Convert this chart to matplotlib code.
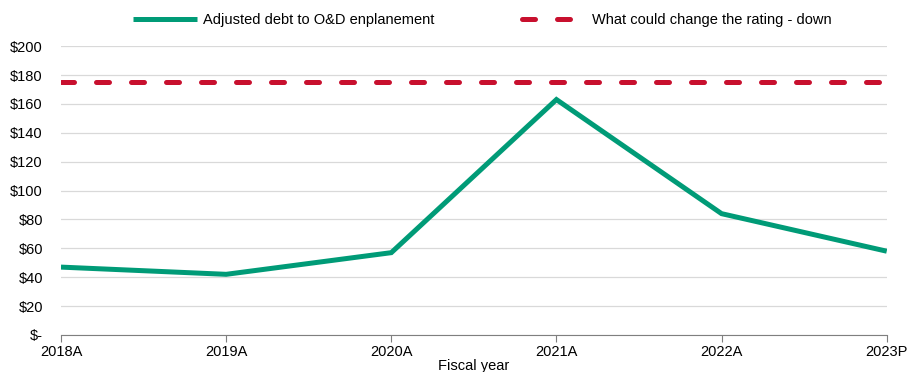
import matplotlib
matplotlib.use("Agg")
import matplotlib.pyplot as plt
from matplotlib.ticker import FuncFormatter

plt.rcParams['font.family'] = ['Liberation Sans', 'DejaVu Sans']

years = ["2018A", "2019A", "2020A", "2021A", "2022A", "2023P"]
debt_per_enpl = [47, 42, 57, 163, 84, 58]
downgrade_threshold = [175, 175, 175, 175, 175, 175]

green = "#009B77"
red = "#C8102E"

fig = plt.figure(figsize=(9.17, 3.72), dpi=100)
ax = fig.add_axes([0.0665, 0.0995, 0.9005, 0.7765])

x = list(range(len(years)))
l1, = ax.plot(x, debt_per_enpl, color=green, lw=3.6, solid_capstyle='butt', solid_joinstyle='miter',
              label="Adjusted debt to O&D enplanement", zorder=3)
l2, = ax.plot(x, downgrade_threshold, color=red, lw=3.6, dashes=(2.6, 4.4), dash_capstyle='round',
              label="What could change the rating - down", zorder=3)

ax.set_xlim(0, len(years) - 1)
ax.set_ylim(0, 200)
ax.set_yticks(range(0, 201, 20))
ax.yaxis.set_major_formatter(FuncFormatter(lambda v, p: "$-" if v == 0 else f"${int(v)}"))
ax.set_xticks(x)
ax.set_xticklabels(years)
ax.grid(axis='y', color='#d9d9d9', lw=0.9)
ax.set_axisbelow(True)
for s in ['top', 'right', 'left']:
    ax.spines[s].set_visible(False)
ax.spines['bottom'].set_color('#7f7f7f')
ax.tick_params(axis='y', length=0, labelsize=10.5, pad=13, colors='#000000')
ax.tick_params(axis='x', length=5, color='#7f7f7f', labelsize=10.5, pad=2)
ax.set_xlabel("Fiscal year", fontsize=10.5, labelpad=0)

fig.legend(handles=[l1, l2], loc='upper center', bbox_to_anchor=(0.526, 1.0), ncol=2, frameon=False,
           fontsize=10.5, handlelength=4.4, columnspacing=6.0, handletextpad=0.4)

fig.savefig("out.png", dpi=100)
